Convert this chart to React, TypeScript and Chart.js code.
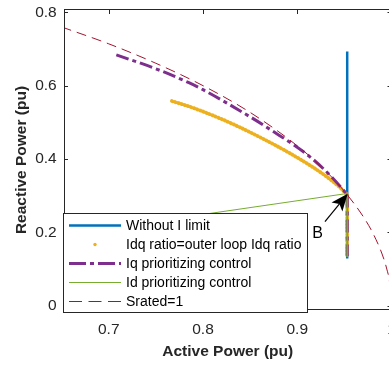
import React, { useEffect, useRef } from 'react';
import { Chart, registerables } from 'chart.js';
Chart.register(...registerables);

// ---- data ----
const xTicks = [0.7, 0.8, 0.9, 1.0];
const yTicks = [0, 0.2, 0.4, 0.6, 0.8];

const blueP = [0.953, 0.953];
const blueQ = [0.693, 0.129];

const orangeP = [0.767, 0.790, 0.825, 0.860, 0.896, 0.924, 0.942, 0.953];
const orangeQ = [0.558, 0.539, 0.503, 0.460, 0.410, 0.365, 0.330, 0.303];
const orangeStemP = [0.953, 0.953];
const orangeStemQ = [0.303, 0.133];

const purpleP = [0.708, 0.750, 0.785, 0.800, 0.850, 0.871, 0.9135, 0.938, 0.953];
const purpleQ = [0.684, 0.646, 0.608, 0.589, 0.515, 0.481, 0.406, 0.347, 0.303];
const purpleStemP = [0.953, 0.953];
const purpleStemQ = [0.303, 0.135];

const greenP = [0.720, 0.953, 0.953];
const greenQ = [0.219, 0.306, 0.133];

const redP = [0.650, 0.700, 0.750, 0.800, 0.850, 0.900, 0.930, 0.950, 0.970, 0.980, 0.990, 0.995, 0.998, 1.000];
const redQ = [0.760, 0.714, 0.661, 0.600, 0.527, 0.436, 0.368, 0.312, 0.243, 0.199, 0.141, 0.100, 0.063, 0.000];

const legendLabels = [
  'Without I limit',
  'Idq ratio=outer loop Idq ratio',
  'Iq prioritizing control',
  'Id prioritizing control',
  'Srated=1',
];

// annotation (data units)
const arrowTail = [0.9294, 0.2291];
const arrowHead = [0.9535, 0.305];
const labelB = [0.9215, 0.196];

const BLUE = '#0072BD';
const ORANGE = '#EDB120';
const PURPLE = '#7E2F8E';
const GREEN = '#77AC30';
const RED = '#A2142F';
const AXIS = '#262626';
const FONT = '"Liberation Sans", Arial, Helvetica, sans-serif';

const PURPLE_DASH = [13, 4, 4, 4];
const RED_DASH = [10, 6];

const pts = (xs: number[], ys: number[]) => xs.map((v, i) => ({ x: v, y: ys[i] }));

const boxPlugin = {
  id: 'boxTicksAnno',
  afterDatasetsDraw(chart: any) {
    const { ctx, chartArea: a, scales } = chart;
    const x = scales.x, y = scales.y;
    ctx.save();
    // arrow
    const tx = x.getPixelForValue(arrowTail[0]), ty = y.getPixelForValue(arrowTail[1]);
    const hx = x.getPixelForValue(arrowHead[0]), hy = y.getPixelForValue(arrowHead[1]);
    const ang = Math.atan2(hy - ty, hx - tx);
    const L = 17, W = 7, notch = 4;
    const cx = Math.cos(ang), sy = Math.sin(ang);
    ctx.strokeStyle = '#000';
    ctx.lineWidth = 1.2;
    ctx.beginPath();
    ctx.moveTo(tx, ty);
    ctx.lineTo(hx - cx * (L - notch), hy - sy * (L - notch));
    ctx.stroke();
    const bx = hx - cx * L, by = hy - sy * L;
    const nx = -sy, ny = cx;
    ctx.fillStyle = '#000';
    ctx.beginPath();
    ctx.moveTo(hx, hy);
    ctx.lineTo(bx + nx * W, by + ny * W);
    ctx.lineTo(hx - cx * (L - notch), hy - sy * (L - notch));
    ctx.lineTo(bx - nx * W, by - ny * W);
    ctx.closePath();
    ctx.fill();
    // label B
    ctx.font = '16px ' + FONT;
    ctx.textAlign = 'center';
    ctx.textBaseline = 'middle';
    ctx.fillText('B', x.getPixelForValue(labelB[0]), y.getPixelForValue(labelB[1]));

    // axes box
    ctx.strokeStyle = AXIS;
    ctx.lineWidth = 1;
    ctx.strokeRect(a.left + 0.5, a.top - 0.5, a.right - a.left, a.bottom - a.top);
    // inner ticks
    const tl = 4;
    ctx.beginPath();
    xTicks.forEach((v) => {
      const px = Math.round(x.getPixelForValue(v)) + 0.5;
      ctx.moveTo(px, a.bottom); ctx.lineTo(px, a.bottom - tl);
      ctx.moveTo(px, a.top); ctx.lineTo(px, a.top + tl);
    });
    yTicks.forEach((v) => {
      const py = Math.round(y.getPixelForValue(v)) + 0.5;
      ctx.moveTo(a.left, py); ctx.lineTo(a.left + tl, py);
      ctx.moveTo(a.right, py); ctx.lineTo(a.right - tl, py);
    });
    ctx.stroke();
    ctx.restore();
  },
  afterDraw(chart: any) {
    const { ctx } = chart;
    ctx.save();
    const L = 63.5, T = 213.5, Wd = 244, H = 99;
    ctx.fillStyle = '#fff';
    ctx.fillRect(L, T, Wd, H);
    ctx.strokeStyle = AXIS;
    ctx.lineWidth = 1;
    ctx.strokeRect(L, T, Wd, H);
    const rows = [225.5, 244.5, 263.5, 282.5, 301.5];
    const sx0 = 69, sx1 = 121;
    // blue
    ctx.strokeStyle = BLUE; ctx.lineWidth = 2.5; ctx.setLineDash([]);
    ctx.beginPath(); ctx.moveTo(sx0, rows[0]); ctx.lineTo(sx1, rows[0]); ctx.stroke();
    // orange dot
    ctx.fillStyle = ORANGE;
    ctx.beginPath(); ctx.arc(95, rows[1], 1.7, 0, Math.PI * 2); ctx.fill();
    // purple dash-dot
    ctx.strokeStyle = PURPLE; ctx.lineWidth = 3; ctx.setLineDash([17, 4, 4, 4]);
    ctx.beginPath(); ctx.moveTo(sx0, rows[2]); ctx.lineTo(sx1, rows[2]); ctx.stroke();
    // green
    ctx.strokeStyle = GREEN; ctx.lineWidth = 1; ctx.setLineDash([]);
    ctx.beginPath(); ctx.moveTo(sx0, rows[3]); ctx.lineTo(sx1, rows[3]); ctx.stroke();
    // red dashed
    ctx.strokeStyle = RED; ctx.lineWidth = 1; ctx.setLineDash([13, 6.5]);
    ctx.beginPath(); ctx.moveTo(sx0, rows[4]); ctx.lineTo(sx1, rows[4]); ctx.stroke();
    ctx.setLineDash([]);
    // text
    ctx.fillStyle = '#000';
    ctx.font = '14px ' + FONT;
    ctx.textAlign = 'left';
    ctx.textBaseline = 'middle';
    legendLabels.forEach((t, i) => ctx.fillText(t, 126, rows[i] + 0.5));
    ctx.restore();
  },
};

export default function App() {
  const ref = useRef<HTMLCanvasElement>(null);
  useEffect(() => {
    if (!ref.current) return;
    const chart = new Chart(ref.current, {
      type: 'scatter',
      data: {
        datasets: [
          { label: 'blue', data: pts(blueP, blueQ), showLine: true, borderColor: BLUE, borderWidth: 2.5, pointRadius: 0, order: 6 },
          { label: 'orange', data: pts(orangeP, orangeQ), showLine: true, borderColor: ORANGE, borderWidth: 3.8, borderDash: [0.5, 2.8], borderCapStyle: 'round', pointRadius: 0, cubicInterpolationMode: 'monotone', order: 5 },
          { label: 'orangeStem', data: pts(orangeStemP, orangeStemQ), showLine: true, borderColor: ORANGE, borderWidth: 3.8, borderDash: [0.5, 2.8], borderCapStyle: 'round', pointRadius: 0, order: 5 },
          { label: 'purple', data: pts(purpleP, purpleQ), showLine: true, borderColor: PURPLE, borderWidth: 3, borderDash: PURPLE_DASH, pointRadius: 0, cubicInterpolationMode: 'monotone', order: 4 },
          { label: 'purpleStem', data: pts(purpleStemP, purpleStemQ), showLine: true, borderColor: PURPLE, borderWidth: 3, borderDash: PURPLE_DASH, pointRadius: 0, order: 4 },
          { label: 'green', data: pts(greenP, greenQ), showLine: true, borderColor: GREEN, borderWidth: 1, pointRadius: 0, order: 3 },
          { label: 'red', data: pts(redP, redQ), showLine: true, borderColor: RED, borderWidth: 1, borderDash: RED_DASH, pointRadius: 0, cubicInterpolationMode: 'monotone', order: 2 },
        ],
      },
      options: {
        animation: false,
        responsive: false,
        devicePixelRatio: 1,
        layout: { padding: { top: 10, right: 8.5, left: 0, bottom: 0 } },
        plugins: { legend: { display: false }, tooltip: { enabled: false } },
        scales: {
          x: {
            type: 'linear',
            min: 0.6525,
            max: 1.0,
            grid: { display: false, drawTicks: false },
            border: { display: false },
            afterBuildTicks: (s: any) => { s.ticks = xTicks.map((v) => ({ value: v })); },
            afterFit: (s: any) => { s.height = 55; s.paddingLeft = 0; s.paddingRight = 0; },
            ticks: {
              padding: 10.5,
              color: AXIS,
              font: { family: FONT, size: 15.5 },
              maxRotation: 0,
              autoSkip: false,
              callback: (v: any) => String(Math.round(Number(v) * 10) / 10),
            },
            title: {
              display: true,
              text: 'Active Power (pu)',
              color: AXIS,
              font: { family: FONT, size: 15.5, weight: 'bold' },
              padding: { top: 0, bottom: 4 },
            },
          },
          y: {
            type: 'linear',
            min: -0.0117,
            max: 0.8063,
            grid: { display: false, drawTicks: false },
            border: { display: false },
            afterBuildTicks: (s: any) => { s.ticks = yTicks.map((v) => ({ value: v })); },
            afterFit: (s: any) => { s.width = 64; s.paddingTop = 0; s.paddingBottom = 0; },
            ticks: {
              padding: 7.3,
              color: AXIS,
              font: { family: FONT, size: 15.5 },
              autoSkip: false,
              callback: (v: any) => String(Math.round(Number(v) * 10) / 10),
            },
            title: {
              display: true,
              text: 'Reactive Power (pu)',
              color: AXIS,
              font: { family: FONT, size: 15.5, weight: 'bold' },
              padding: { top: 12.4, bottom: 0 },
            },
          },
        },
      },
      plugins: [boxPlugin],
    });
    return () => chart.destroy();
  }, []);
  return (
    <div style={{ position: 'absolute', left: 0, top: 0, width: 389, height: 365, overflow: 'hidden', background: '#fff' }}>
      <canvas ref={ref} width={400} height={365} style={{ width: 400, height: 365, display: 'block' }} />
    </div>
  );
}
